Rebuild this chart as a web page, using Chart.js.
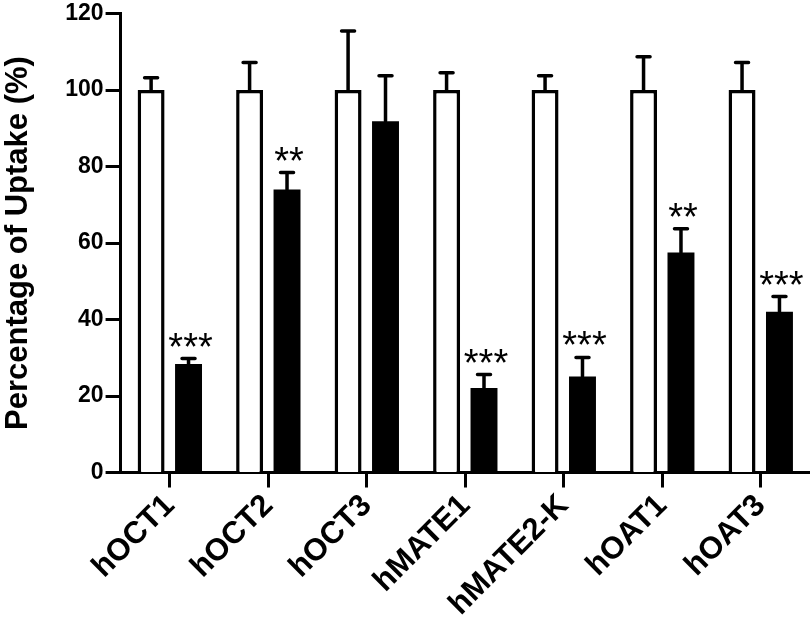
<!DOCTYPE html>
<html>
<head>
<meta charset="utf-8">
<script src="https://cdn.jsdelivr.net/npm/chart.js@4/dist/chart.umd.min.js"></script>
<style>
  html, body { margin: 0; padding: 0; background: #ffffff; }
  #wrap { width: 810px; height: 626px; position: relative; }
</style>
</head>
<body>
<div id="wrap"><canvas id="c"></canvas></div>
<script>
// ---- data ----
const categories = ['hOCT1', 'hOCT2', 'hOCT3', 'hMATE1', 'hMATE2-K', 'hOAT1', 'hOAT3'];
const controlMeans = [100, 100, 100, 100, 100, 100, 100];
const controlErr = [3.2, 7.2, 15.4, 4.5, 3.7, 8.7, 7.2];
const treatedMeans = [28.4, 74.0, 91.8, 22.1, 25.1, 57.5, 42.0];
const treatedErr = [1.4, 4.4, 11.9, 3.5, 5.0, 6.2, 4.0];
const significance = ['***', '**', '', '***', '***', '**', '***'];
const yTicks = [0, 20, 40, 60, 80, 100, 120];
const yTitle = 'Percentage of Uptake (%)';

const FONT = "'Liberation Sans', Arial, Helvetica, sans-serif";

const errorBarPlugin = {
  id: 'errorBars',
  afterDatasetsDraw(chart) {
    const ctx = chart.ctx;
    const yScale = chart.scales.y;
    chart.data.datasets.forEach((ds, di) => {
      const meta = chart.getDatasetMeta(di);
      meta.data.forEach((bar, j) => {
        const top = ds.data[j] + ds.errors[j];
        const yTop = yScale.getPixelForValue(top);
        ctx.save();
        ctx.strokeStyle = '#000';
        ctx.lineWidth = 3.5;
        ctx.lineCap = 'round';
        ctx.beginPath();
        ctx.moveTo(bar.x, bar.y);
        ctx.lineTo(bar.x, yTop);
        ctx.moveTo(bar.x - 6.5, yTop);
        ctx.lineTo(bar.x + 6.5, yTop);
        ctx.stroke();
        if (ds.marks && ds.marks[j]) {
          ctx.fillStyle = '#000';
          ctx.font = '38px ' + FONT;
          ctx.textAlign = 'center';
          ctx.textBaseline = 'alphabetic';
          ctx.fillText(ds.marks[j], bar.x + 2, yTop + 1);
        }
        ctx.restore();
      });
    });
  }
};

new Chart(document.getElementById('c'), {
  type: 'bar',
  data: {
    labels: categories,
    datasets: [
      {
        label: 'Control',
        data: controlMeans,
        errors: controlErr,
        backgroundColor: '#ffffff',
        borderColor: '#000000',
        borderWidth: 3.5,
        barPercentage: 0.72,
        categoryPercentage: 0.76
      },
      {
        label: 'Treated',
        data: treatedMeans,
        errors: treatedErr,
        marks: significance,
        backgroundColor: '#000000',
        borderColor: '#000000',
        borderWidth: 0,
        barPercentage: 0.72,
        categoryPercentage: 0.76
      }
    ]
  },
  options: {
    responsive: true,
    maintainAspectRatio: false,
    animation: false,
    layout: { padding: { top: 1, right: 0, bottom: 3, left: 0 } },
    plugins: {
      legend: { display: false },
      tooltip: { enabled: false }
    },
    scales: {
      x: {
        grid: {
          offset: false,
          drawOnChartArea: false,
          drawTicks: true,
          tickLength: 15,
          tickWidth: 3,
          tickColor: '#000'
        },
        border: { display: true, color: '#000', width: 3 },
        ticks: {
          autoSkip: false,
          maxRotation: 45,
          minRotation: 45,
          color: '#000',
          padding: 0,
          font: { family: FONT, size: 31, weight: 'bold' }
        }
      },
      y: {
        min: 0,
        max: 120,
        afterBuildTicks(scale) { scale.ticks = yTicks.map(v => ({ value: v })); },
        grid: {
          drawOnChartArea: false,
          drawTicks: true,
          tickLength: 15,
          tickWidth: 3,
          tickColor: '#000'
        },
        border: { display: true, color: '#000', width: 3 },
        ticks: {
          color: '#000',
          padding: 2,
          font: { family: FONT, size: 23, weight: 'bold', lineHeight: 1.0 }
        },
        title: {
          display: true,
          text: yTitle,
          color: '#000',
          padding: { top: 0, bottom: 26 },
          font: { family: FONT, size: 31, weight: 'bold' }
        }
      }
    }
  },
  plugins: [errorBarPlugin]
});
</script>
</body>
</html>
